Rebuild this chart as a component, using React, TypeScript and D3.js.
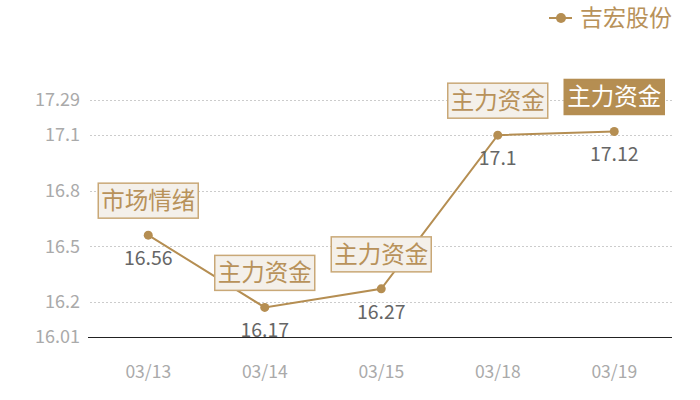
import React from "react";
import * as d3 from "d3";

const categories = ["03/13", "03/14", "03/15", "03/18", "03/19"];
const values = [16.56, 16.17, 16.27, 17.1, 17.12];
const valueLabels = ["16.56", "16.17", "16.27", "17.1", "17.12"];
const notes = ["市场情绪", "主力资金", "主力资金", "主力资金", "主力资金"];
const highlighted = [false, false, false, false, true];
const yTicks = [16.01, 16.2, 16.5, 16.8, 17.1, 17.29];
const seriesName = "吉宏股份";

const W = 700, H = 400;
const FONT = "'Noto Sans CJK SC', 'Noto Sans', sans-serif";
const GOLD = "#b58e52";

export default function App() {
  const x = d3.scaleBand<string>().domain(categories).range([90, 672.5]);
  const y = d3.scaleLinear().domain([16.01, 17.29]).range([337, 100]);
  const cx = (c: string) => (x(c) as number) + x.bandwidth() / 2;
  const line = d3.line<number>().x((_, i) => cx(categories[i])).y((v) => y(v));
  const crisp = (v: number) => Math.round(v) + 0.5;

  return (
    <svg width={W} height={H} style={{ position: "absolute", left: 0, top: 0 }} fontFamily={FONT}>
      <rect width={W} height={H} fill="#fff" />
      {yTicks.map((t) => (
        <g key={t}>
          {t !== 16.01 && (
            <line x1={90} x2={672} y1={crisp(y(t))} y2={crisp(y(t))} stroke="#cccccc" strokeDasharray="2,2" strokeWidth={1} />
          )}
          <text x={80} y={y(t)} dy="0.35em" textAnchor="end" fontSize={18} fill="#aaaaaa">{t}</text>
        </g>
      ))}
      <line x1={88} x2={672} y1={crisp(y(16.01))} y2={crisp(y(16.01))} stroke="#222" strokeWidth={1} />
      {categories.map((c) => (
        <text key={c} x={cx(c)} y={372} dy="0.35em" textAnchor="middle" fontSize={17.5} fill="#aaaaaa">{c}</text>
      ))}
      <path d={line(values) || ""} fill="none" stroke={GOLD} strokeWidth={2} />
      {values.map((v, i) => (
        <circle key={i} cx={cx(categories[i])} cy={y(v)} r={4.5} fill={GOLD} />
      ))}
      {values.map((v, i) => (
        <text key={i} x={cx(categories[i])} y={y(v) + 23} dy="0.35em" textAnchor="middle" fontSize={19.5} fill="#666">{valueLabels[i]}</text>
      ))}
      {values.map((v, i) => {
        const px = cx(categories[i]);
        const bw = 100, bh = 35;
        const top = y(v) - 17 - bh;
        const hl = highlighted[i];
        return (
          <g key={i}>
            <rect x={px - bw / 2} y={top} width={bw} height={bh} fill={hl ? GOLD : "#f4f0ea"} stroke={hl ? GOLD : "#c9a877"} strokeWidth={1.5} />
            <text x={px} y={top + bh / 2} dy="0.35em" textAnchor="middle" fontSize={23.5} fill={hl ? "#fff" : "#b8925a"}>{notes[i]}</text>
          </g>
        );
      })}
      <line x1={549} x2={572} y1={18} y2={18} stroke={GOLD} strokeWidth={2} />
      <circle cx={561} cy={18} r={5} fill={GOLD} />
      <text x={580} y={18} dy="0.35em" fontSize={23} fill="#b8925a">{seriesName}</text>
    </svg>
  );
}
